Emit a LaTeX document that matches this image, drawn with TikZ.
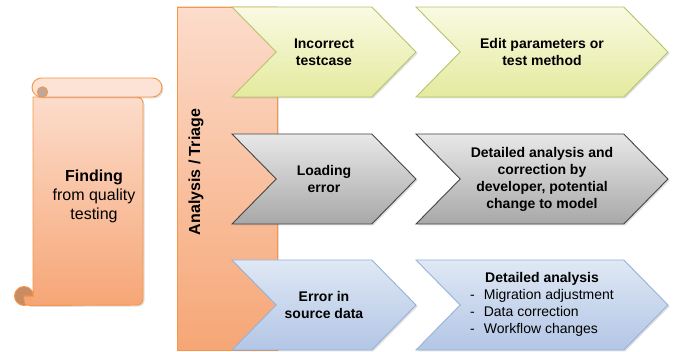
\documentclass[tikz,border=0pt]{standalone}
\usepackage{fontspec}
\setmainfont{Liberation Sans}
\usetikzlibrary{shapes.symbols,shadows}

\definecolor{OrangeLine}{HTML}{F79646}
\definecolor{OrangeTop}{HTML}{FCDCCB}
\definecolor{OrangeBottom}{HTML}{F6A676}
\definecolor{CurlBrown}{HTML}{C98B62}
\definecolor{CurlGrey}{HTML}{BCA89C}
\definecolor{YellowLine}{HTML}{B7C46A}
\definecolor{YellowTop}{HTML}{F9FAE2}
\definecolor{YellowBottom}{HTML}{E4EA9E}
\definecolor{GreyLine}{HTML}{454545}
\definecolor{GreyTop}{HTML}{E8E8E8}
\definecolor{GreyBottom}{HTML}{A8A8A8}
\definecolor{BlueLine}{HTML}{95B3D7}
\definecolor{BlueTop}{HTML}{DFE8F4}
\definecolor{BlueBottom}{HTML}{B3C6E6}

\begin{document}
\begin{tikzpicture}[x=1pt,y=-1pt]
        \tikzset{shade/.style = {drop shadow={opacity=0.25,shadow xshift=1.5pt,shadow yshift=-1.5pt}}}
        \tikzset{chevron/.style = {signal, signal from=west, signal to=east, signal pointer angle=91,
                 minimum height=90pt, inner sep=0pt, align=center, line width=0.9pt, shade,
                 font=\fontsize{14}{17}\selectfont\bfseries}}
        \tikzset{yellowchev/.style = {chevron, draw=YellowLine, top color=YellowTop, bottom color=YellowBottom}}
        \tikzset{greychev/.style = {chevron, draw=GreyLine, top color=GreyTop, bottom color=GreyBottom}}
        \tikzset{bluechev/.style = {chevron, draw=BlueLine, top color=BlueTop, bottom color=BlueBottom}}
        \tikzset{scroll/.style = {draw=OrangeLine, line width=0.9pt}}
        \useasboundingbox (0,0) rectangle (675,352);
        % scroll
        \draw[scroll, fill=CurlBrown] (24,296) circle (9.5);
        \draw[scroll, shade, top color=OrangeTop, bottom color=OrangeBottom, rounded corners=6]
             (33,97) -- (143,97) -- (143,305) -- (24,305.5) [sharp corners] -- (24,296) -- (33,296) -- cycle;
        \fill[OrangeBottom] (24.5,296.5) rectangle (32.5,304.5);
        \draw[scroll] (24,296) -- (33,296) -- (33,290);
        \draw[scroll, shade, fill=OrangeTop!80!white, rounded corners=9.5] (32,78) rectangle (162,97);
        \draw[scroll, fill=CurlGrey] (42.5,92) circle (5.2);
        \node[font=\fontsize{16}{19}\selectfont, align=center] (finding) at (94,196)
             {\textbf{Finding}\\from quality\\testing};
        % triage bar
        \node[draw=OrangeLine, line width=0.9pt, top color=OrangeTop, bottom color=OrangeBottom,
              minimum width=100pt, minimum height=343pt, shade] (triage) at (227,178.5) {};
        \node[rotate=90, font=\fontsize{16}{19}\selectfont\bfseries] (triagetext) at (196,172) {Analysis / Triage};
        % chevrons
        \node[yellowchev, minimum width=184pt] (case) at (324,52) {Incorrect\\testcase};
        \node[yellowchev, minimum width=252pt] (edit) at (542,52) {Edit parameters or\\test method};
        \node[greychev, minimum width=184pt] (load) at (324,179) {Loading\\error};
        \node[greychev, minimum width=252pt] (dev) at (542,179)
             {Detailed analysis and\\correction by\\developer, potential\\change to model};
        \node[bluechev, minimum width=184pt] (source) at (324,305) {Error in\\source data};
        \node[bluechev, minimum width=252pt] (detail) at (542,305)
             {\mdseries\begin{tabular}{@{}l@{\hspace{9pt}}l@{}}
              \multicolumn{2}{c}{\bfseries Detailed analysis}\\
              - & Migration adjustment\\
              - & Data correction\\
              - & Workflow changes
              \end{tabular}};
\end{tikzpicture}
\end{document}
